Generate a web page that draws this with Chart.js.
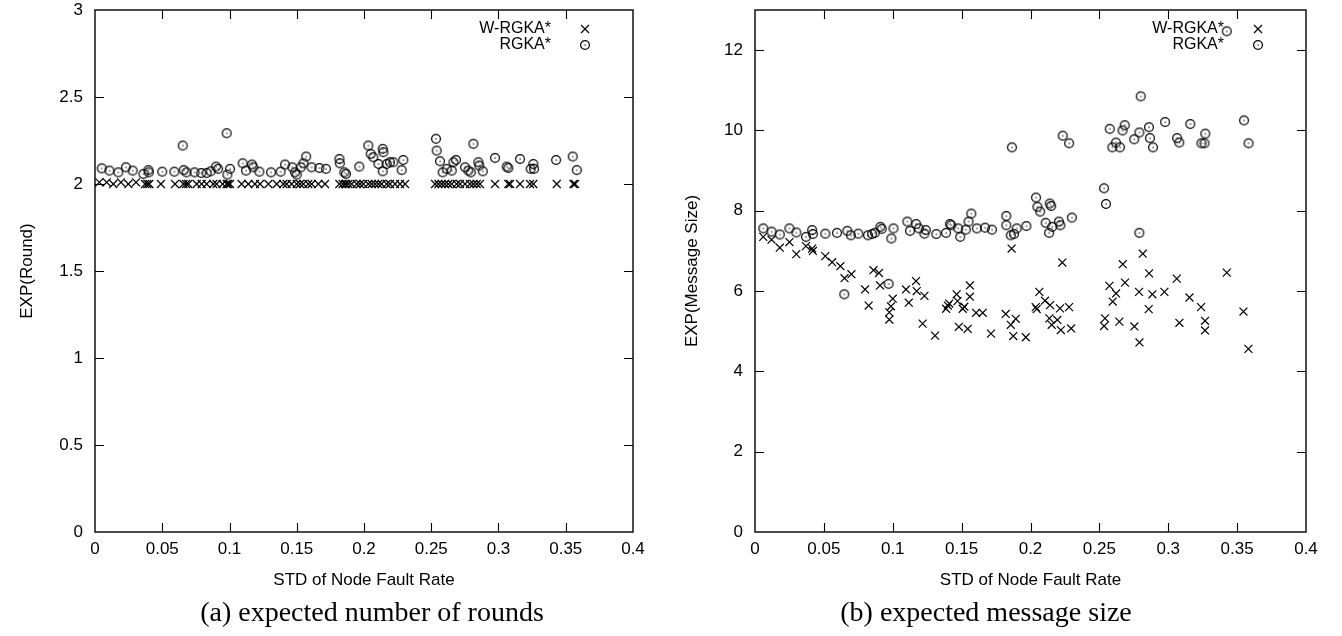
<!DOCTYPE html>
<html>
<head>
<meta charset="utf-8">
<script src="https://cdn.jsdelivr.net/npm/chart.js@4.4.1/dist/chart.umd.min.js"></script>
<style>
  html,body{margin:0;padding:0;background:#fff;}
  body{width:1342px;height:636px;position:relative;overflow:hidden;}
  canvas{position:absolute;top:0;}
  .cap{position:absolute;top:595px;font-family:"Liberation Serif","Times New Roman",serif;font-size:28px;line-height:34px;color:#000;white-space:nowrap;transform:translateX(-50%);}
</style>
</head>
<body>
<canvas id="c1" width="671" height="600" style="left:0"></canvas>
<canvas id="c2" width="671" height="600" style="left:671px"></canvas>
<div class="cap" id="capA" style="left:372px"></div>
<div class="cap" id="capB" style="left:986px"></div>
<script>
// ---------------- DATA ----------------
const seriesNames = ["W-RGKA*", "RGKA*"];
const xTitle = "STD of Node Fault Rate";
const leftYTitle = "EXP(Round)";
const rightYTitle = "EXP(Message Size)";
const captions = ["(a) expected number of rounds", "(b) expected message size"];

// (a) RGKA* rounds
const roundRX = [0.005,0.0107,0.0173,0.023,0.028,0.036,0.0397,0.040,0.050,0.059,0.0652,0.066,0.068,0.074,0.079,0.083,0.086,0.09,0.0915,0.0979,0.0984,0.1004,0.1098,0.1123,0.1167,0.1177,0.1222,0.1309,0.138,0.1413,0.1467,0.1487,0.15,0.153,0.155,0.157,0.161,0.1668,0.1717,0.1817,0.182,0.1854,0.1866,0.1965,0.2032,0.205,0.2069,0.2107,0.2139,0.2144,0.2139,0.2169,0.2193,0.2218,0.228,0.2292,0.2535,0.254,0.2565,0.2585,0.2615,0.2652,0.2665,0.2684,0.2751,0.2776,0.2794,0.2813,0.285,0.2857,0.2883,0.2974,0.3061,0.3073,0.316,0.3239,0.3259,0.3264,0.3428,0.3552,0.3582];
const roundRY = [2.09,2.077,2.067,2.096,2.077,2.058,2.08,2.067,2.071,2.071,2.221,2.08,2.067,2.067,2.063,2.063,2.073,2.1,2.087,2.292,2.054,2.087,2.119,2.077,2.112,2.096,2.071,2.067,2.071,2.112,2.096,2.067,2.054,2.096,2.119,2.158,2.096,2.092,2.087,2.144,2.119,2.067,2.058,2.1,2.221,2.173,2.154,2.115,2.202,2.183,2.073,2.115,2.125,2.125,2.08,2.138,2.26,2.192,2.131,2.067,2.087,2.077,2.125,2.138,2.096,2.077,2.067,2.231,2.125,2.106,2.073,2.15,2.1,2.092,2.144,2.087,2.115,2.087,2.138,2.158,2.08];
// (a) W-RGKA* rounds
const roundWX = [0.0032,0.0087,0.0136,0.0193,0.0248,0.0305,0.0372,0.0389,0.0404,0.049,0.0595,0.0657,0.0677,0.0694,0.0756,0.0793,0.083,0.0879,0.0904,0.0949,0.0979,0.0991,0.1004,0.109,0.114,0.1189,0.1227,0.1289,0.1351,0.14,0.1425,0.1462,0.15,0.1524,0.1549,0.1586,0.1611,0.166,0.171,0.1817,0.1841,0.1859,0.1866,0.1884,0.1908,0.1946,0.197,0.1995,0.2032,0.2057,0.2082,0.2107,0.2131,0.2169,0.2193,0.2231,0.2268,0.2305,0.2528,0.2553,0.2578,0.2602,0.2627,0.2652,0.2689,0.2714,0.2751,0.2788,0.2813,0.2838,0.2862,0.2974,0.3073,0.3086,0.316,0.3234,0.3259,0.3433,0.3557,0.3569];
const roundWY = [2.01,2.01,2.0,2.01,2.0,2.01,2.0,2.0,2.0,2.0,2.0,2.0,2.0,2.0,2.0,2.0,2.0,2.0,2.0,2.0,2.0,2.0,2.0,2.0,2.0,2.0,2.0,2.0,2.0,2.0,2.0,2.0,2.0,2.0,2.0,2.0,2.0,2.0,2.0,2.0,2.0,2.0,2.0,2.0,2.0,2.0,2.0,2.0,2.0,2.0,2.0,2.0,2.0,2.0,2.0,2.0,2.0,2.0,2.0,2.0,2.0,2.0,2.0,2.0,2.0,2.0,2.0,2.0,2.0,2.0,2.0,2.0,2.0,2.0,2.0,2.0,2.0,2.0,2.0,2.0];

// (b) RGKA* message size
const msgRX = [0.006,0.012,0.018,0.025,0.030,0.037,0.0415,0.042,0.051,0.0595,0.0648,0.067,0.0696,0.075,0.082,0.085,0.087,0.091,0.092,0.097,0.099,0.1005,0.1106,0.1125,0.117,0.119,0.123,0.124,0.1316,0.1387,0.1415,0.1425,0.1475,0.149,0.153,0.155,0.157,0.161,0.167,0.172,0.1824,0.1824,0.1857,0.1865,0.188,0.19,0.197,0.204,0.205,0.207,0.211,0.214,0.215,0.2135,0.2157,0.2206,0.2217,0.2234,0.228,0.23,0.2534,0.2548,0.2575,0.2594,0.262,0.2649,0.2668,0.2684,0.2753,0.279,0.279,0.28,0.286,0.2867,0.2889,0.2977,0.3064,0.308,0.316,0.3241,0.3263,0.3269,0.3425,0.355,0.3583];
const msgRY = [7.56,7.48,7.41,7.56,7.46,7.35,7.52,7.42,7.43,7.45,5.92,7.5,7.39,7.43,7.39,7.42,7.45,7.6,7.55,6.18,7.31,7.56,7.73,7.5,7.67,7.56,7.43,7.52,7.42,7.45,7.67,7.64,7.56,7.35,7.53,7.73,7.93,7.56,7.58,7.53,7.87,7.64,7.39,9.58,7.42,7.56,7.62,8.33,8.1,7.98,7.7,8.18,8.12,7.45,7.6,7.73,7.64,9.87,9.68,7.83,8.56,8.17,10.04,9.58,9.7,9.58,10.0,10.13,9.78,7.45,9.95,10.85,10.08,9.81,9.58,10.21,9.81,9.7,10.16,9.68,9.68,9.92,12.47,10.25,9.68];
// (b) W-RGKA* message size
const msgWX = [0.006,0.012,0.018,0.025,0.030,0.037,0.0415,0.042,0.051,0.056,0.062,0.065,0.07,0.0799,0.0825,0.086,0.09,0.0908,0.0975,0.0975,0.0987,0.1,0.1096,0.1116,0.1169,0.1174,0.1217,0.123,0.1307,0.1387,0.14,0.141,0.1464,0.147,0.148,0.1508,0.152,0.1544,0.156,0.156,0.1605,0.1653,0.1713,0.182,0.1863,0.1857,0.1875,0.1893,0.1966,0.2038,0.2045,0.2064,0.2105,0.2137,0.2142,0.2154,0.2195,0.2214,0.222,0.2231,0.228,0.2295,0.2534,0.2541,0.2573,0.2597,0.2621,0.2645,0.267,0.2686,0.2754,0.2788,0.2791,0.2815,0.2858,0.2861,0.2885,0.2972,0.3062,0.3081,0.3154,0.3238,0.3267,0.3267,0.3425,0.3546,0.3582];
const msgWY = [7.35,7.28,7.08,7.22,6.92,7.12,7.06,7.0,6.87,6.72,6.62,6.32,6.42,6.04,5.64,6.52,6.45,6.14,5.29,5.47,5.62,5.81,6.04,5.71,6.25,6.0,5.19,5.88,4.89,5.56,5.64,5.69,5.92,5.75,5.11,5.56,5.61,5.06,6.14,5.86,5.46,5.46,4.94,5.43,7.06,5.16,4.88,5.31,4.85,5.6,5.55,5.98,5.76,5.32,5.65,5.16,5.28,5.57,5.03,6.71,5.6,5.07,5.13,5.32,6.13,5.74,5.94,5.24,6.67,6.21,5.12,5.98,4.72,6.93,5.55,6.44,5.92,5.98,6.31,5.21,5.84,5.6,5.26,5.02,6.46,5.49,4.56];

// ---------------- STYLE HELPERS ----------------
const SANS = '"Liberation Sans", Arial, Helvetica, sans-serif';
const FS = 17;

function makeCircleDot() {
  const c = document.createElement('canvas');
  c.width = 12; c.height = 12;
  const g = c.getContext('2d');
  g.strokeStyle = '#000'; g.lineWidth = 1.2;
  g.beginPath(); g.arc(6, 6, 4.4, 0, Math.PI * 2); g.stroke();
  g.fillStyle = '#000'; g.fillRect(5.5, 5.5, 1.2, 1.2);
  return c;
}
const circleDot = makeCircleDot();

function pts(xs, ys) { return xs.map((x, i) => ({x: x, y: ys[i]})); }

// gnuplot-like frame with inward (mirrored) ticks + legend text-then-symbol
const gnuFrame = {
  id: 'gnuFrame',
  afterDraw(chart) {
    const {ctx, chartArea: a, scales} = chart;
    const tl = 9;
    ctx.save();
    ctx.strokeStyle = '#000';
    ctx.lineWidth = 1.4;
    ctx.strokeRect(a.left, a.top, a.right - a.left, a.bottom - a.top);
    ctx.lineWidth = 1.1;
    ctx.beginPath();
    scales.x.ticks.forEach(t => {
      const px = Math.round(scales.x.getPixelForValue(t.value)) + 0.5;
      if (px <= a.left + 1 || px >= a.right - 1) return;
      ctx.moveTo(px, a.bottom); ctx.lineTo(px, a.bottom - tl);
      ctx.moveTo(px, a.top); ctx.lineTo(px, a.top + tl);
    });
    scales.y.ticks.forEach(t => {
      const py = Math.round(scales.y.getPixelForValue(t.value)) + 0.5;
      if (py <= a.top + 1 || py >= a.bottom - 1) return;
      ctx.moveTo(a.left, py); ctx.lineTo(a.left + tl, py);
      ctx.moveTo(a.right, py); ctx.lineTo(a.right - tl, py);
    });
    ctx.stroke();
    // legend
    ctx.font = '16px ' + SANS;
    ctx.fillStyle = '#000';
    ctx.textAlign = 'right';
    ctx.textBaseline = 'middle';
    const sx = a.right - 48;
    chart.data.datasets.forEach((ds, i) => {
      const ly = a.top + 19 + i * 16;
      ctx.fillText(ds.label, sx - 34, ly);
      if (ds.pointStyle === 'crossRot') {
        const r = ds.pointRadius * Math.SQRT1_2;
        ctx.lineWidth = 1.2;
        ctx.beginPath();
        ctx.moveTo(sx - r, ly - r); ctx.lineTo(sx + r, ly + r);
        ctx.moveTo(sx - r, ly + r); ctx.lineTo(sx + r, ly - r);
        ctx.stroke();
      } else {
        ctx.drawImage(circleDot, sx - 6, ly - 6);
      }
    });
    ctx.restore();
  }
};

function fmt(v) { return String(+v.toFixed(2)); }

function makeChart(id, wx, wy, rx, ry, yMax, yStep, yTitle, yWidth, rightPad, yTitlePad) {
  return new Chart(document.getElementById(id), {
    type: 'scatter',
    data: {
      datasets: [
        {label: seriesNames[0], data: pts(wx, wy), pointStyle: 'crossRot', pointRadius: 5.6,
         borderColor: '#000', backgroundColor: '#000', borderWidth: 1.2},
        {label: seriesNames[1], data: pts(rx, ry), pointStyle: circleDot, pointRadius: 6,
         borderColor: '#000', backgroundColor: '#000', borderWidth: 1}
      ]
    },
    options: {
      responsive: false,
      animation: false,
      events: [],
      layout: {padding: {left: 0, right: rightPad, top: 10, bottom: 0}},
      plugins: {legend: {display: false}, tooltip: {enabled: false}},
      scales: {
        x: {
          type: 'linear', min: 0, max: 0.4,
          grid: {display: false, drawTicks: false}, border: {display: false},
          ticks: {stepSize: 0.05, color: '#000', font: {family: SANS, size: FS}, padding: 7,
                  maxRotation: 0, autoSkip: false, callback: v => fmt(v)},
          title: {display: true, text: xTitle, color: '#000', font: {family: SANS, size: FS},
                  padding: {top: 0, bottom: 9}},
          afterFit: s => { s.height = 68; s.paddingLeft = 0; s.paddingRight = 0; }
        },
        y: {
          type: 'linear', min: 0, max: yMax,
          grid: {display: false, drawTicks: false}, border: {display: false},
          afterBuildTicks: s => { s.ticks = s.ticks.filter(t => Math.abs(t.value / yStep - Math.round(t.value / yStep)) < 1e-6); },
          ticks: {stepSize: yStep, color: '#000', font: {family: SANS, size: FS}, padding: 12,
                  autoSkip: false, callback: v => fmt(v)},
          title: {display: true, text: yTitle, color: '#000', font: {family: SANS, size: FS},
                  padding: {top: yTitlePad, bottom: 0}},
          afterFit: s => { s.width = yWidth; s.paddingTop = 0; s.paddingBottom = 0; }
        }
      }
    },
    plugins: [gnuFrame]
  });
}

makeChart('c1', roundWX, roundWY, roundRX, roundRY, 3, 0.5, leftYTitle, 95, 38, 17);
makeChart('c2', msgWX, msgWY, msgRX, msgRY, 13, 2, rightYTitle, 84, 36, 11);
document.getElementById('capA').textContent = captions[0];
document.getElementById('capB').textContent = captions[1];
</script>
</body>
</html>
